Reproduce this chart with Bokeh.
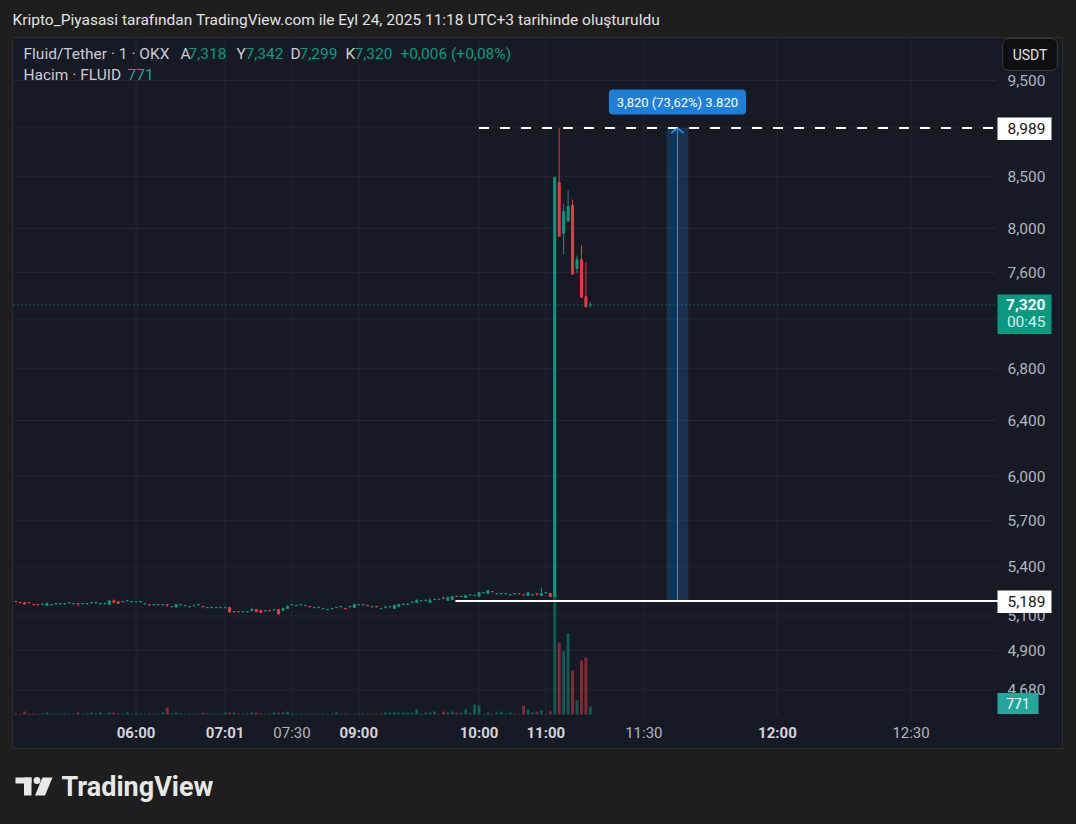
import math
from bokeh.plotting import figure
from bokeh.models import Range1d, ColumnDataSource, Label, LinearScale, LogScale, GlobalInlineStyleSheet
from bokeh.core.properties import value
from bokeh.embed import file_html
from bokeh.resources import INLINE

# ---------------- data (1-minute bars, FLUID/USDT, OKX) ----------------
opens = [5187, 5181, 5179, 5180, 5169, 5168, 5168, 5163, 5166, 5171,
         5171, 5171, 5178, 5172, 5174, 5172, 5172, 5178, 5178, 5172,
         5172, 5169, 5191, 5185, 5184, 5190, 5184, 5184, 5184, 5172,
         5167, 5166, 5166, 5166, 5168, 5154, 5153, 5166, 5161, 5154,
         5161, 5166, 5156, 5149, 5149, 5149, 5149, 5149, 5151, 5124,
         5126, 5124, 5124, 5131, 5139, 5133, 5130, 5132, 5136, 5139,
         5133, 5145, 5166, 5161, 5166, 5161, 5156, 5149, 5149, 5143,
         5137, 5143, 5149, 5154, 5145, 5154, 5151, 5166, 5166, 5163,
         5154, 5156, 5143, 5149, 5154, 5145, 5157, 5168, 5168, 5180,
         5181, 5190, 5192, 5181, 5198, 5198, 5206, 5193, 5199, 5218,
         5216, 5211, 5226, 5222, 5217, 5238, 5235, 5247, 5232, 5232,
         5232, 5226, 5232, 5234, 5228, 5223, 5226, 5234, 5223, 5238,
         5235, 5217, 8438, 7955, 8067, 8216, 7636, 7716, 7390, 7318]
closes = [5185, 5179, 5171, 5178, 5167, 5166, 5170, 5175, 5168, 5173,
          5173, 5173, 5180, 5174, 5172, 5174, 5174, 5180, 5180, 5174,
          5174, 5191, 5181, 5175, 5186, 5192, 5186, 5186, 5186, 5174,
          5165, 5168, 5168, 5168, 5166, 5156, 5169, 5168, 5163, 5156,
          5163, 5168, 5154, 5151, 5151, 5151, 5151, 5151, 5123, 5126,
          5124, 5126, 5126, 5139, 5125, 5121, 5132, 5130, 5138, 5111,
          5145, 5157, 5168, 5163, 5168, 5163, 5154, 5151, 5151, 5145,
          5139, 5145, 5151, 5156, 5143, 5156, 5169, 5168, 5168, 5161,
          5156, 5154, 5145, 5151, 5156, 5163, 5169, 5170, 5170, 5182,
          5193, 5192, 5194, 5193, 5200, 5200, 5204, 5211, 5217, 5216,
          5218, 5223, 5228, 5224, 5241, 5240, 5253, 5245, 5234, 5234,
          5234, 5228, 5234, 5232, 5226, 5241, 5228, 5232, 5235, 5240,
          5217, 8488, 7928, 8159, 8206, 7586, 7716, 7385, 7305, 7320]
highs = [5187, 5181, 5179, 5180, 5169, 5168, 5175, 5181, 5168, 5173,
         5173, 5173, 5180, 5174, 5174, 5174, 5174, 5180, 5180, 5174,
         5174, 5191, 5199, 5185, 5186, 5192, 5186, 5186, 5186, 5174,
         5167, 5168, 5168, 5168, 5168, 5156, 5169, 5168, 5163, 5156,
         5163, 5168, 5156, 5151, 5151, 5151, 5151, 5151, 5151, 5126,
         5126, 5126, 5126, 5150, 5139, 5133, 5132, 5132, 5138, 5139,
         5145, 5163, 5168, 5163, 5168, 5163, 5156, 5151, 5151, 5145,
         5139, 5145, 5151, 5156, 5145, 5156, 5169, 5168, 5168, 5163,
         5156, 5156, 5145, 5163, 5156, 5163, 5169, 5175, 5175, 5187,
         5199, 5192, 5199, 5205, 5205, 5200, 5217, 5217, 5217, 5218,
         5218, 5223, 5228, 5224, 5241, 5240, 5253, 5247, 5234, 5234,
         5234, 5228, 5234, 5234, 5228, 5247, 5228, 5234, 5271, 5240,
         5235, 8488, 8989, 8232, 8360, 8273, 7752, 7845, 7689, 7342]
lows = [5185, 5179, 5171, 5178, 5167, 5166, 5168, 5163, 5166, 5171,
        5171, 5171, 5178, 5172, 5157, 5172, 5172, 5178, 5178, 5172,
        5172, 5169, 5181, 5175, 5184, 5190, 5184, 5184, 5184, 5172,
        5165, 5166, 5166, 5166, 5153, 5154, 5153, 5166, 5161, 5154,
        5161, 5166, 5154, 5149, 5149, 5149, 5149, 5149, 5123, 5124,
        5124, 5124, 5124, 5131, 5125, 5121, 5130, 5130, 5136, 5111,
        5133, 5145, 5166, 5161, 5166, 5161, 5154, 5149, 5149, 5143,
        5137, 5143, 5149, 5154, 5143, 5154, 5151, 5166, 5166, 5161,
        5154, 5154, 5143, 5149, 5154, 5145, 5157, 5168, 5168, 5180,
        5181, 5190, 5192, 5181, 5198, 5198, 5204, 5193, 5199, 5216,
        5216, 5211, 5226, 5222, 5217, 5238, 5235, 5245, 5232, 5232,
        5232, 5226, 5232, 5232, 5226, 5223, 5226, 5223, 5223, 5238,
        5217, 5217, 7928, 7764, 8067, 7586, 7594, 7385, 7299, 7299]
volumes = [85, 70, 290, 80, 90, 75, 95, 190, 80, 70,
           85, 90, 75, 80, 185, 70, 90, 180, 85, 195,
           80, 200, 175, 90, 70, 185, 80, 95, 85, 75,
           90, 80, 70, 190, 680, 85, 200, 90, 75, 80,
           95, 70, 180, 85, 90, 80, 75, 195, 185, 175,
           90, 80, 85, 190, 180, 95, 70, 85, 200, 185,
           190, 280, 90, 75, 80, 85, 90, 70, 85, 80,
           75, 90, 195, 80, 85, 70, 90, 80, 95, 85,
           75, 80, 90, 190, 185, 200, 180, 195, 190, 185,
           490, 90, 190, 200, 290, 85, 280, 195, 285, 180,
           190, 480, 185, 960, 870, 60, 190, 70, 200, 280,
           65, 180, 75, 70, 860, 470, 185, 275, 380, 60,
           290, 26500, 6910, 6050, 7780, 4220, 1350, 5180, 5470, 771]

time_tick_idx = [27, 47, 62, 77, 104, 119, 141, 171, 201]
time_tick_labels = ["06:00", "07:01", "07:30", "09:00", "10:00", "11:00", "11:30", "12:00", "12:30"]
time_tick_bold = [True, True, False, True, True, True, False, True, False]
price_ticks = [9500, 9000, 8500, 8000, 7600, 7200, 6800, 6400, 6000, 5700, 5400, 5100, 4900, 4680]

last_price = 7320
last_volume = volumes[-1]
ray_high = 8989          # horizontal ray (dashed)
ray_high_start = 104
ray_low = 5189           # horizontal ray (solid)
ray_low_start = 98.7
measure_x0, measure_x1 = 146.1, 151.0
measure_text = "3,820 (73,62%) 3.820"

title_text = "Kripto_Piyasasi tarafından TradingView.com ile Eyl 24, 2025 11:18 UTC+3 tarihinde oluşturuldu"

# ---------------- styling ----------------
GREEN = "#089981"
RED = "#f23645"
PANE_BG = "#161a25"
OUTER_BG = "#1e1e1e"
GRID = "#232733"
AXIS_TXT = "#b2b5be"
LEG_TXT = "#c9ccd4"
FONT = "Roboto"

# page-pixel layout helpers (layout only)
X0, DX = 15.3, 4.454
K = 860.8
def ix(px):
    return (px - X0) / DX
def pr(py):
    return 9500.0 * math.exp(-(py - 80.0) / K)
def shift(price, dpx):
    return price * math.exp(-dpx / K)
VPX = 96.0
def vol_at(py):
    return (714.0 - py) * VPX

W, H = 1076, 824
p = figure(width=W, height=H, output_backend="svg", toolbar_location=None,
           x_axis_location=None, y_axis_location=None, y_axis_type="log",
           x_range=Range1d(ix(0), ix(W)), y_range=Range1d(pr(H), pr(0)),
           min_border_left=0, min_border_right=0, min_border_top=0, min_border_bottom=0,
           background_fill_color=OUTER_BG, border_fill_color=OUTER_BG,
           outline_line_color=None, title=None)
p.y_scale = LogScale()
p.extra_y_ranges = {"vol": Range1d(vol_at(H), vol_at(0))}
p.extra_y_scales = {"vol": LinearScale()}
p.xgrid.visible = False
p.ygrid.visible = False
p.stylesheets = [GlobalInlineStyleSheet(css="body { background: #1e1e1e; }")]

# chart pane
p.quad(left=[ix(12)], right=[ix(1062)], top=[pr(37)], bottom=[pr(748)],
       fill_color=PANE_BG, line_color="#2d2d2d", line_width=1)

x_left = ix(13)
x_plot_right = ix(996)
y_plot_bottom = pr(716)
y_top = pr(38)

# grid lines
p.segment(x0=[x_left] * len(price_ticks), y0=price_ticks, x1=[x_plot_right] * len(price_ticks), y1=price_ticks,
          line_color=GRID, line_width=1)
p.segment(x0=time_tick_idx, y0=[y_plot_bottom] * len(time_tick_idx), x1=time_tick_idx, y1=[y_top] * len(time_tick_idx),
          line_color=GRID, line_width=1)

idx = list(range(len(opens)))
colors = [GREEN if c >= o else RED for o, c in zip(opens, closes)]
src = ColumnDataSource(dict(x=idx, o=opens, c=closes, h=highs, l=lows, v=volumes, color=colors,
                            top=[max(o, c) for o, c in zip(opens, closes)],
                            bottom=[min(o, c) for o, c in zip(opens, closes)]))

# volume
p.vbar(x="x", top="v", bottom=0, width=0.67, y_range_name="vol", source=src,
       fill_color="color", fill_alpha=0.5, line_color=None)

# measurement box
p.quad(left=[measure_x0], right=[measure_x1], top=[ray_high], bottom=[ray_low],
       fill_color="#2196f3", fill_alpha=0.2, line_color=None)
xc = (measure_x0 + measure_x1) / 2
p.segment(x0=[xc], y0=[ray_low], x1=[xc], y1=[ray_high], line_color="#2196f3", line_width=1)

# candles
p.segment(x0="x", y0="l", x1="x", y1="h", line_color="color", line_width=1, source=src)
p.vbar(x="x", top="top", bottom="bottom", width=0.45, source=src,
       fill_color="color", line_color="color", line_width=1)

# current price dotted line
p.segment(x0=[x_left], y0=[last_price], x1=[x_plot_right], y1=[last_price],
          line_color=GREEN, line_width=1, line_dash="1 3")

# horizontal rays
p.segment(x0=[ray_high_start], y0=[ray_high], x1=[ix(998)], y1=[ray_high],
          line_color="white", line_width=2, line_dash="10 11")
p.segment(x0=[ray_low_start], y0=[ray_low], x1=[ix(998)], y1=[ray_low],
          line_color="white", line_width=2)
p.line(x=[xc - 1.4, xc, xc + 1.4], y=[shift(ray_high, 5), ray_high, shift(ray_high, 5)],
       line_color="#2196f3", line_width=1.5)

# price axis labels
p.text(x=[ix(1045)] * len(price_ticks), y=price_ticks, text=[f"{t:,}" for t in price_ticks],
       text_align="right", text_baseline="middle", text_color=AXIS_TXT,
       text_font=value(FONT), text_font_size="15.5px")

# time axis labels
bx = [t for t, b in zip(time_tick_idx, time_tick_bold) if b]
bl = [s for s, b in zip(time_tick_labels, time_tick_bold) if b]
nx = [t for t, b in zip(time_tick_idx, time_tick_bold) if not b]
nl = [s for s, b in zip(time_tick_labels, time_tick_bold) if not b]
p.text(x=bx, y=[pr(732)] * len(bx), text=bl, text_align="center", text_baseline="middle",
       text_color="#d1d4dc", text_font=value(FONT), text_font_size="15px", text_font_style="bold")
p.text(x=nx, y=[pr(732)] * len(nx), text=nl, text_align="center", text_baseline="middle",
       text_color="#b2b5be", text_font=value(FONT), text_font_size="15px")

# price boxes on axis
for price in (ray_high, ray_low):
    p.quad(left=[ix(997)], right=[ix(1051)], top=[shift(price, -10.5)], bottom=[shift(price, 12)],
           fill_color="white", line_color=None)
    p.text(x=[ix(1045)], y=[price], text=[f"{price:,}"], text_align="right", text_baseline="middle",
           text_color="#131722", text_font=value(FONT), text_font_size="15.5px")

p.quad(left=[ix(997)], right=[ix(1051)], top=[shift(last_price, -10.5)], bottom=[shift(last_price, 29)],
       fill_color=GREEN, line_color=None)
p.text(x=[ix(1045)], y=[last_price], text=[f"{last_price:,}"], text_align="right", text_baseline="middle",
       text_color="white", text_font=value(FONT), text_font_size="15.5px", text_font_style="bold")
p.text(x=[ix(1045)], y=[shift(last_price, 17.5)], text=["00:45"], text_align="right", text_baseline="middle",
       text_color="#d5efe9", text_font=value(FONT), text_font_size="15.5px")

p.quad(left=[ix(997)], right=[ix(1038)], top=[last_volume + 13.5 * VPX], bottom=[last_volume - 7.5 * VPX],
       y_range_name="vol", fill_color="#26a69a", line_color=None)
p.text(x=[ix(1017.5)], y=[last_volume + 2.5 * VPX], y_range_name="vol", text=[f"{last_volume}"],
       text_align="center", text_baseline="middle", text_color="white",
       text_font=value(FONT), text_font_size="14px")

# legend texts (top-left)
leg1 = [("Fluid/Tether · 1 · OKX", 23, LEG_TXT), ("A", 180, LEG_TXT), (f"{opens[-1]:,}", 188, GREEN),
        ("Y", 236, LEG_TXT), (f"{highs[-1]:,}", 245, GREEN), ("D", 290, LEG_TXT), (f"{lows[-1]:,}", 299, GREEN),
        ("K", 345, LEG_TXT), (f"{closes[-1]:,}", 354, GREEN), ("+0,006 (+0,08%)", 400, GREEN)]
p.text(x=[ix(s[1]) for s in leg1], y=[pr(53)] * len(leg1), text=[s[0] for s in leg1],
       text_color=[s[2] for s in leg1], text_align="left", text_baseline="middle",
       text_font=value(FONT), text_font_size="15.5px")
leg2 = [("Hacim · FLUID", 23, LEG_TXT), (f"{last_volume}", 127, "#26a69a")]
p.text(x=[ix(s[1]) for s in leg2], y=[pr(74)] * len(leg2), text=[s[0] for s in leg2],
       text_color=[s[2] for s in leg2], text_align="left", text_baseline="middle",
       text_font=value(FONT), text_font_size="15.5px")

# header text (outside the pane)
p.text(x=[ix(12)], y=[pr(19)], text=[title_text], text_align="left", text_baseline="middle",
       text_color="#e2e2e2", text_font=value(FONT), text_font_size="15.5px")

# TradingView logo
LOGO = "#e8e8e8"
p.quad(left=[ix(15)], right=[ix(31)], top=[pr(777)], bottom=[pr(783)], fill_color=LOGO, line_color=None)
p.quad(left=[ix(23.5)], right=[ix(31)], top=[pr(777)], bottom=[pr(795)], fill_color=LOGO, line_color=None)
p.scatter(x=[ix(36.5)], y=[pr(780)], size=7, marker="circle", fill_color=LOGO, line_color=None)
p.patch(x=[ix(42), ix(52), ix(44.5), ix(34.5)], y=[pr(777), pr(777), pr(795), pr(795)],
        fill_color=LOGO, line_color=None)
p.text(x=[ix(61)], y=[pr(786)], text=["TradingView"], text_align="left", text_baseline="middle",
       text_color=LOGO, text_font=value(FONT), text_font_size="27px", text_font_style="bold")

# annotations
p.add_layout(Label(x=xc, y=shift(ray_high, -26), text=measure_text, text_align="center", text_baseline="middle",
                   text_color="white", text_font=FONT, text_font_size="13px",
                   background_fill_color="#1f7ed8", border_radius=4,
                   padding=dict(left=8, right=8, top=5, bottom=5)))
p.add_layout(Label(x=ix(1029.5), y=pr(54), text="USDT", text_align="center", text_baseline="middle",
                   text_color="#e0e0e0", text_font=FONT, text_font_size="14px",
                   background_fill_color="#0f0f0f", border_line_color="#3a3a3a", border_radius=6,
                   padding=dict(left=10, right=10, top=8, bottom=8)))

open("out.html", "w").write(file_html(p, INLINE))
